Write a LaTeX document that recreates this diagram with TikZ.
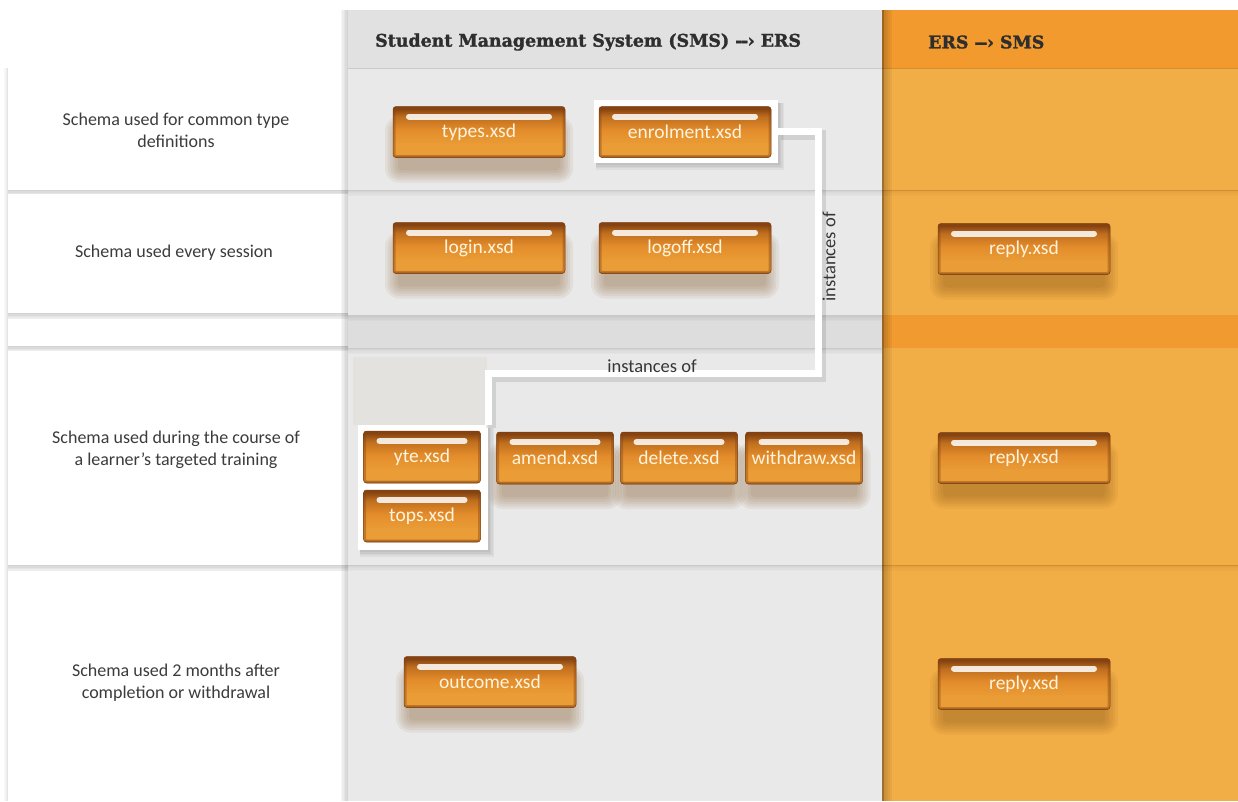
\documentclass[tikz,border=0pt]{standalone}
\usepackage{fontspec}
\setmainfont{Carlito}
\newfontfamily\hdfont{DejaVu Serif}[FakeBold=1.6]
\definecolor{midbg}{HTML}{E9E9E9}
\definecolor{midhd}{HTML}{E1E1E1}
\definecolor{midgap}{HTML}{DDDDDD}
\definecolor{midline}{HTML}{C9C9C9}
\definecolor{orbg}{HTML}{F2AE46}
\definecolor{orhd}{HTML}{F29A2E}
\definecolor{orgap}{HTML}{F09A30}
\definecolor{orline}{HTML}{D88C30}
\definecolor{btnE}{HTML}{9A561A}
\definecolor{btnLo}{HTML}{EA9C36}
\definecolor{btnMid}{HTML}{E38C2B}
\definecolor{btnHi}{HTML}{BF6E1E}
\definecolor{btnTop}{HTML}{854312}
\definecolor{btnedge}{HTML}{7A3C0E}
\definecolor{btntext}{HTML}{FFF4DE}
\definecolor{labtext}{HTML}{3C3C3C}
\definecolor{hdtext}{HTML}{2E2E2E}
\definecolor{stickbg}{HTML}{E4E2DE}
\definecolor{shc}{HTML}{7A4A14}
\pgfdeclareverticalshading{btnshade}{100bp}{color(0bp)=(btnE); color(25bp)=(btnE); color(27.5bp)=(btnLo); color(38bp)=(btnLo); color(52bp)=(btnMid); color(65bp)=(btnHi); color(73bp)=(btnTop); color(100bp)=(btnTop)}
\begin{document}
\begin{tikzpicture}[x=1pt,y=-1pt,
  btnbase/.style={rectangle, rounded corners=3pt, draw=btnedge, line width=0.5pt,
    shading=btnshade, text=btntext, font=\fontsize{19.5}{21}\selectfont, inner sep=0pt,
    path picture={
      \draw[btnTop, opacity=0.4, line width=5pt]
        (path picture bounding box.south west) rectangle (path picture bounding box.north east);
      \draw[white, opacity=0.85, line width=6pt, line cap=round]
        ([xshift=16pt,yshift=-10pt]path picture bounding box.north west) --
        ([xshift=-16pt,yshift=-10pt]path picture bounding box.north east);}},
  btn/.style={btnbase, minimum width=172pt, minimum height=51pt},
  btnS/.style={btnbase, minimum width=117pt, minimum height=52pt},
  frame/.style={rectangle, fill=white, inner sep=0pt},
  conn/.style={draw=white, line width=7pt, line join=miter},
  connsh/.style={draw=black, draw opacity=0.10, line width=10pt, line join=miter},
  lab/.style={text=labtext, font=\fontsize{18}{22}\selectfont, align=center},
  hd/.style={text=hdtext, font=\hdfont\bfseries\fontsize{17.4}{19}\selectfont, anchor=west, inner sep=0pt},
  inst/.style={text=labtext!90!black, font=\fontsize{18.5}{20}\selectfont, inner sep=1pt},
  softsh/.style={black, opacity=0.035}
]
\useasboundingbox (0,0) rectangle (1238,801);
\fill[white] (0,0) rectangle (1238,801);

% left row cards (white on white, with soft shadows beneath)
\foreach \yb in {190,313,346,565}{
  \foreach \k in {1,...,5}{
    \fill[softsh] (8,\yb) rectangle (348,\yb+\k*1.4);
  }
}
\foreach \k in {1,...,3}{
  \fill[softsh] (8-\k*1.2,68) rectangle (8,801);
}
\fill[white] (8,68) rectangle (348,190);
\fill[white] (8,193.5) rectangle (348,313);
\fill[white] (8,319) rectangle (348,346);
\fill[white] (8,351) rectangle (348,565);
\fill[white] (8,571) rectangle (348,801);

% middle column
\foreach \k in {1,...,5}{
  \fill[softsh] (348-\k*1.5,10) rectangle (348,801);
}
\fill[midbg] (348,10) rectangle (882,801);
\fill[midhd] (348,10) rectangle (882,68);
\draw[midline] (348,68) -- (882,68);
\fill[midgap] (348,315) rectangle (882,348);
\foreach \yy in {190,315,348,565}{
  \foreach \k in {1,...,4}{
    \fill[black, opacity=0.018] (348,\yy) rectangle (882,\yy+\k*1.5);
  }
  \draw[midline] (348,\yy) -- (882,\yy);
}

% right column
\fill[orbg] (882,10) rectangle (1238,801);
\fill[orhd] (882,10) rectangle (1238,68);
\draw[orline] (882,68) -- (1238,68);
\fill[orgap] (882,315) rectangle (1238,348);
\foreach \yy in {190,565}{
  \foreach \k in {1,...,4}{
    \fill[black, opacity=0.015] (882,\yy) rectangle (1238,\yy+\k*1.5);
  }
  \draw[orline] (882,\yy) -- (1238,\yy);
}
\fill[black, opacity=0.35] (882,10) rectangle (884,801);
\foreach \k in {1,...,4}{
  \fill[black, opacity=0.045] (884,10) rectangle (884+\k*2,801);
}

% soft shadows below the floating buttons (centre x / centre y / half width / half height)
\foreach \cx/\cy/\hw/\hh in {479/132/86/25.5, 685/248/86/25.5, 479/248/86/25.5, 1024/249/86/25.5,
    555/458/58.5/26, 679/458/58.5/26, 804/458/58.5/26, 1024/458/86/25.5, 490/682/86/25.5, 1024/684/86/25.5}{
  \foreach \k in {0,...,5}{
    \fill[shc, opacity=0.07, rounded corners=4pt+\k*2pt]
      (\cx-\hw+5-\k*2.6, \cy+\hh+13+\k*2.4) rectangle (\cx+\hw-5+\k*2.6, \cy-\hh+22-\k*2.4);
  }
}

% headers
\node[hd] (hdsms) at (375,42) {Student Management System (SMS) {-}\kern-1.5pt{-}\kern-0.5pt›\ ERS};
\node[hd] (hders) at (928,42) {ERS {-}\kern-1.5pt{-}\kern-0.5pt›\ SMS};

% left labels
\node[lab] (l1) at (176,130) {Schema used for common type\\definitions};
\node[lab] (l2) at (174,253) {Schema used every session};
\node[lab] (l3) at (176,450) {Schema used during the course of\\a learner’s targeted training};
\node[lab] (l4) at (176,683) {Schema used 2 months after\\completion or withdrawal};

% sticky area
\fill[stickbg] (353,357) rectangle (487,425);

% frame shadows and frames
\foreach \k in {1,...,4}{
  \fill[black, opacity=0.045] (594+2,100+3) rectangle (778+\k*1.5,163+\k*1.8);
  \fill[black, opacity=0.045] (358+2,425+3) rectangle (488+\k*1.5,550+\k*1.8);
}
\node[frame, minimum width=184pt, minimum height=63pt] (enrolframe) at (686,131.5) {};
\node[frame, minimum width=130pt, minimum height=125pt] (ytframe) at (423,487.5) {};

% connector
\coordinate (turn) at (818,373);
\draw[connsh, transform canvas={shift={(2.5pt,-3.5pt)}}] (enrolframe.east) -- (enrolframe.east -| turn) -- (turn) -- (ytframe.north east |- turn) -- (ytframe.north east);
\fill[frame] (enrolframe.north west) rectangle (enrolframe.south east);
\draw[conn] (enrolframe.east) -- (enrolframe.east -| turn) -- (turn) -- (ytframe.north east |- turn) -- (ytframe.north east);
\node[inst, rotate=90] (instv) at (829,257) {instances of};
\node[inst] (insth) at (652,366) {instances of};

% buttons
\node[btn] (types) at (479,132) {types.xsd};
\node[btn] (enrol) at (685,132) {enrolment.xsd};
\node[btn] (login) at (479,248) {login.xsd};
\node[btn] (logoff) at (685,248) {logoff.xsd};
\node[btn] (reply1) at (1024,249) {reply.xsd};
\node[btnS] (yte) at (422,457) {yte.xsd};
\node[btnS] (tops) at (422,516) {tops.xsd};
\node[btnS] (amend) at (555,458) {amend.xsd};
\node[btnS] (delete) at (679,458) {delete.xsd};
\node[btnS] (withdraw) at (804,458) {withdraw.xsd};
\node[btn] (reply2) at (1024,458) {reply.xsd};
\node[btn] (outcome) at (490,682) {outcome.xsd};
\node[btn] (reply3) at (1024,684) {reply.xsd};
\end{tikzpicture}
\end{document}
